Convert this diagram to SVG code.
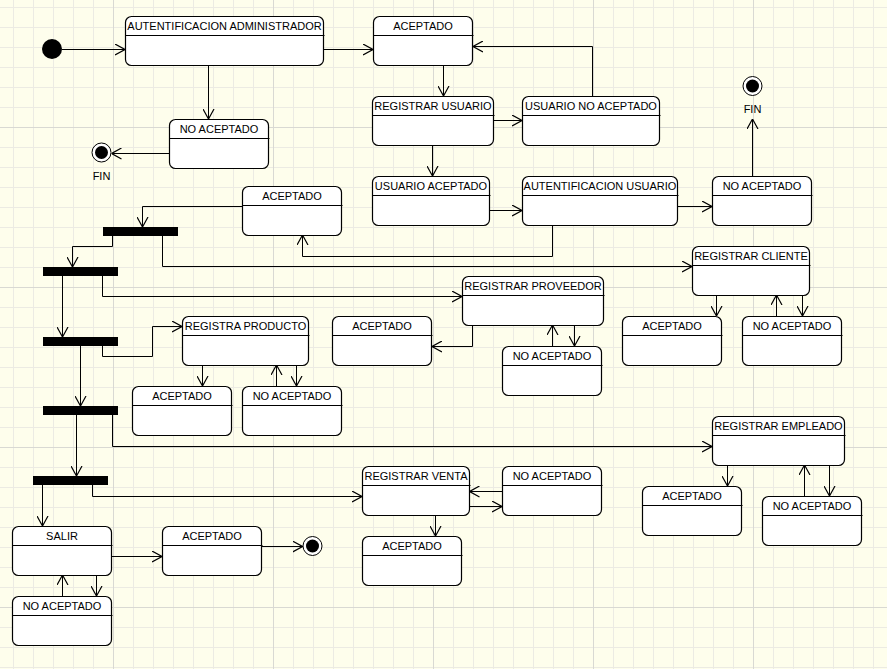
<svg xmlns="http://www.w3.org/2000/svg" width="887" height="669" viewBox="0 0 887 669">
<defs>
<pattern id="gm" x="13" y="7" width="20" height="20" patternUnits="userSpaceOnUse"><path d="M0.5,0 V20 M0,0.5 H20" stroke="#ecebe3" stroke-width="1" fill="none"/></pattern>
<pattern id="gM" x="113" y="127" width="160" height="160" patternUnits="userSpaceOnUse"><path d="M0.5,0 V160 M0,0.5 H160" stroke="#d9d9d3" stroke-width="1" fill="none"/></pattern>
<marker id="a" viewBox="0 0 10 12" refX="10" refY="6" markerWidth="10" markerHeight="12" markerUnits="userSpaceOnUse" orient="auto"><path d="M0,0.5 L10,6 L0,11.5" fill="none" stroke="#000" stroke-width="1.2"/></marker>
</defs>
<style>
.st rect{fill:#fff;stroke:#000;stroke-width:1.2}
.st line{stroke:#000;stroke-width:1}
text{font-family:"Liberation Sans",Arial,sans-serif;font-size:11px;text-anchor:middle;fill:#000}
.bar{fill:#000}
#connectors path{fill:none;stroke:#000;stroke-width:1;marker-end:url(#a)}
</style>
<rect width="887" height="669" fill="#fefeec"/>
<rect width="887" height="669" fill="url(#gm)"/>
<rect width="887" height="669" fill="url(#gM)"/>

<g id="initial"><circle cx="52" cy="49" r="10" fill="#000"/></g>
<g id="fin1"><circle cx="101.5" cy="152.5" r="9.5" fill="#fff" stroke="#000"/><circle cx="101.5" cy="152.5" r="6.5" fill="#000"/><text x="101.5" y="180">FIN</text></g>
<g id="fin2"><circle cx="752.5" cy="86" r="9.5" fill="#fff" stroke="#000"/><circle cx="752.5" cy="86" r="6.5" fill="#000"/><text x="752.5" y="113">FIN</text></g>
<g id="fin3"><circle cx="312.5" cy="546" r="9.5" fill="#fff" stroke="#000"/><circle cx="312.5" cy="546" r="6.5" fill="#000"/></g>

<g id="bar1"><rect class="bar" x="103" y="227" width="75" height="9"/></g>
<g id="bar2"><rect class="bar" x="43" y="267" width="75" height="9"/></g>
<g id="bar3"><rect class="bar" x="43" y="337" width="75" height="9"/></g>
<g id="bar4"><rect class="bar" x="43" y="406" width="75" height="9"/></g>
<g id="bar5"><rect class="bar" x="33" y="476" width="75" height="9"/></g>

<g id="autAdmin" class="st"><rect x="125.5" y="16.5" width="198" height="49" rx="6"/><line x1="125.5" y1="35.5" x2="324.5" y2="35.5"/><text x="224.5" y="30">AUTENTIFICACION ADMINISTRADOR</text></g>
<g id="noAcep1" class="st"><rect x="169.5" y="119.5" width="99" height="49" rx="6"/><line x1="169.5" y1="138.5" x2="269.5" y2="138.5"/><text x="219" y="133">NO ACEPTADO</text></g>
<g id="acep1" class="st"><rect x="373.5" y="16.5" width="99" height="49" rx="6"/><line x1="373.5" y1="35.5" x2="473.5" y2="35.5"/><text x="423" y="30">ACEPTADO</text></g>
<g id="regUsuario" class="st"><rect x="372.5" y="96.5" width="121" height="49" rx="6"/><line x1="372.5" y1="115.5" x2="494.5" y2="115.5"/><text x="433" y="110">REGISTRAR USUARIO</text></g>
<g id="usuNoAcep" class="st"><rect x="522.5" y="96.5" width="137" height="49" rx="6"/><line x1="522.5" y1="115.5" x2="660.5" y2="115.5"/><text x="591" y="110">USUARIO NO ACEPTADO</text></g>
<g id="usuAcep" class="st"><rect x="372.5" y="176.5" width="117" height="49" rx="6"/><line x1="372.5" y1="195.5" x2="490.5" y2="195.5"/><text x="431" y="190">USUARIO ACEPTADO</text></g>
<g id="autUsuario" class="st"><rect x="522.5" y="176.5" width="155" height="49" rx="6"/><line x1="522.5" y1="195.5" x2="678.5" y2="195.5"/><text x="600" y="190">AUTENTIFICACION USUARIO</text></g>
<g id="noAcep2" class="st"><rect x="712.5" y="176.5" width="99" height="49" rx="6"/><line x1="712.5" y1="195.5" x2="812.5" y2="195.5"/><text x="762" y="190">NO ACEPTADO</text></g>
<g id="acep2" class="st"><rect x="242.5" y="186.5" width="99" height="49" rx="6"/><line x1="242.5" y1="205.5" x2="342.5" y2="205.5"/><text x="292" y="200">ACEPTADO</text></g>
<g id="regCliente" class="st"><rect x="692.5" y="246.5" width="117" height="49" rx="6"/><line x1="692.5" y1="265.5" x2="810.5" y2="265.5"/><text x="751" y="260">REGISTRAR CLIENTE</text></g>
<g id="regProveedor" class="st"><rect x="462.5" y="276.5" width="141" height="49" rx="6"/><line x1="462.5" y1="295.5" x2="604.5" y2="295.5"/><text x="533" y="290">REGISTRAR PROVEEDOR</text></g>
<g id="acepProv" class="st"><rect x="332.5" y="316.5" width="99" height="49" rx="6"/><line x1="332.5" y1="335.5" x2="432.5" y2="335.5"/><text x="382" y="330">ACEPTADO</text></g>
<g id="noAcepProv" class="st"><rect x="502.5" y="346.5" width="99" height="49" rx="6"/><line x1="502.5" y1="365.5" x2="602.5" y2="365.5"/><text x="552" y="360">NO ACEPTADO</text></g>
<g id="acepCli" class="st"><rect x="622.5" y="316.5" width="99" height="49" rx="6"/><line x1="622.5" y1="335.5" x2="722.5" y2="335.5"/><text x="672" y="330">ACEPTADO</text></g>
<g id="noAcepCli" class="st"><rect x="742.5" y="316.5" width="99" height="49" rx="6"/><line x1="742.5" y1="335.5" x2="842.5" y2="335.5"/><text x="792" y="330">NO ACEPTADO</text></g>
<g id="regProducto" class="st"><rect x="182.5" y="316.5" width="126" height="49" rx="6"/><line x1="182.5" y1="335.5" x2="309.5" y2="335.5"/><text x="245.5" y="330">REGISTRA PRODUCTO</text></g>
<g id="acepProd" class="st"><rect x="132.5" y="386.5" width="99" height="49" rx="6"/><line x1="132.5" y1="405.5" x2="232.5" y2="405.5"/><text x="182" y="400">ACEPTADO</text></g>
<g id="noAcepProd" class="st"><rect x="242.5" y="386.5" width="99" height="49" rx="6"/><line x1="242.5" y1="405.5" x2="342.5" y2="405.5"/><text x="292" y="400">NO ACEPTADO</text></g>
<g id="regEmpleado" class="st"><rect x="712.5" y="416.5" width="132" height="49" rx="6"/><line x1="712.5" y1="435.5" x2="845.5" y2="435.5"/><text x="778.5" y="430">REGISTRAR EMPLEADO</text></g>
<g id="acepEmp" class="st"><rect x="642.5" y="486.5" width="99" height="49" rx="6"/><line x1="642.5" y1="505.5" x2="742.5" y2="505.5"/><text x="692" y="500">ACEPTADO</text></g>
<g id="noAcepEmp" class="st"><rect x="762.5" y="496.5" width="99" height="49" rx="6"/><line x1="762.5" y1="515.5" x2="862.5" y2="515.5"/><text x="812" y="510">NO ACEPTADO</text></g>
<g id="regVenta" class="st"><rect x="362.5" y="466.5" width="107" height="49" rx="6"/><line x1="362.5" y1="485.5" x2="470.5" y2="485.5"/><text x="416" y="480">REGISTRAR VENTA</text></g>
<g id="noAcepVenta" class="st"><rect x="502.5" y="466.5" width="99" height="49" rx="6"/><line x1="502.5" y1="485.5" x2="602.5" y2="485.5"/><text x="552" y="480">NO ACEPTADO</text></g>
<g id="acepVenta" class="st"><rect x="362.5" y="536.5" width="99" height="49" rx="6"/><line x1="362.5" y1="555.5" x2="462.5" y2="555.5"/><text x="412" y="550">ACEPTADO</text></g>
<g id="salir" class="st"><rect x="12.5" y="526.5" width="99" height="49" rx="6"/><line x1="12.5" y1="545.5" x2="112.5" y2="545.5"/><text x="62" y="540">SALIR</text></g>
<g id="acepSalir" class="st"><rect x="162.5" y="526.5" width="99" height="49" rx="6"/><line x1="162.5" y1="545.5" x2="262.5" y2="545.5"/><text x="212" y="540">ACEPTADO</text></g>
<g id="noAcepSalir" class="st"><rect x="12.5" y="596.5" width="99" height="49" rx="6"/><line x1="12.5" y1="615.5" x2="112.5" y2="615.5"/><text x="62" y="610">NO ACEPTADO</text></g>

<g id="connectors">
<path d="M62,49.5 H125"/>
<path d="M208.5,65 V119"/>
<path d="M169,153.5 H111.5"/>
<path d="M323,49.5 H373"/>
<path d="M443.5,65 V96"/>
<path d="M493,120.5 H522"/>
<path d="M592.5,96 V46.5 H473"/>
<path d="M432.5,145 V176"/>
<path d="M489,210.5 H522"/>
<path d="M677,206.5 H712"/>
<path d="M752.5,176 V119"/>
<path d="M552.5,225 V256.5 H302.5 V235"/>
<path d="M242,206.5 H142.5 V227"/>
<path d="M112.5,236 V246.5 H72.5 V267"/>
<path d="M162.5,236 V266.5 H692"/>
<path d="M62.5,276 V337"/>
<path d="M102.5,276 V296.5 H462"/>
<path d="M102.5,346 V356.5 H152.5 V326.5 H182"/>
<path d="M80.5,346 V406"/>
<path d="M202.5,365 V386"/>
<path d="M276.5,386 V365"/>
<path d="M296.5,365 V386"/>
<path d="M472.5,325 V346.5 H432"/>
<path d="M552.5,346 V325"/>
<path d="M574.5,325 V346"/>
<path d="M716.5,295 V316"/>
<path d="M776.5,316 V295"/>
<path d="M802.5,295 V316"/>
<path d="M76.5,415 V476"/>
<path d="M112.5,415 V446.5 H712"/>
<path d="M727.5,465 V486"/>
<path d="M804.5,496 V465"/>
<path d="M829.5,465 V496"/>
<path d="M42.5,485 V526"/>
<path d="M92.5,485 V496.5 H362"/>
<path d="M111,556.5 H162"/>
<path d="M261,546.5 H302.5"/>
<path d="M62.5,596 V575"/>
<path d="M96.5,575 V596"/>
<path d="M502,491.5 H469.5"/>
<path d="M469,506.5 H502"/>
<path d="M435.5,515 V536"/>
</g>
</svg>
